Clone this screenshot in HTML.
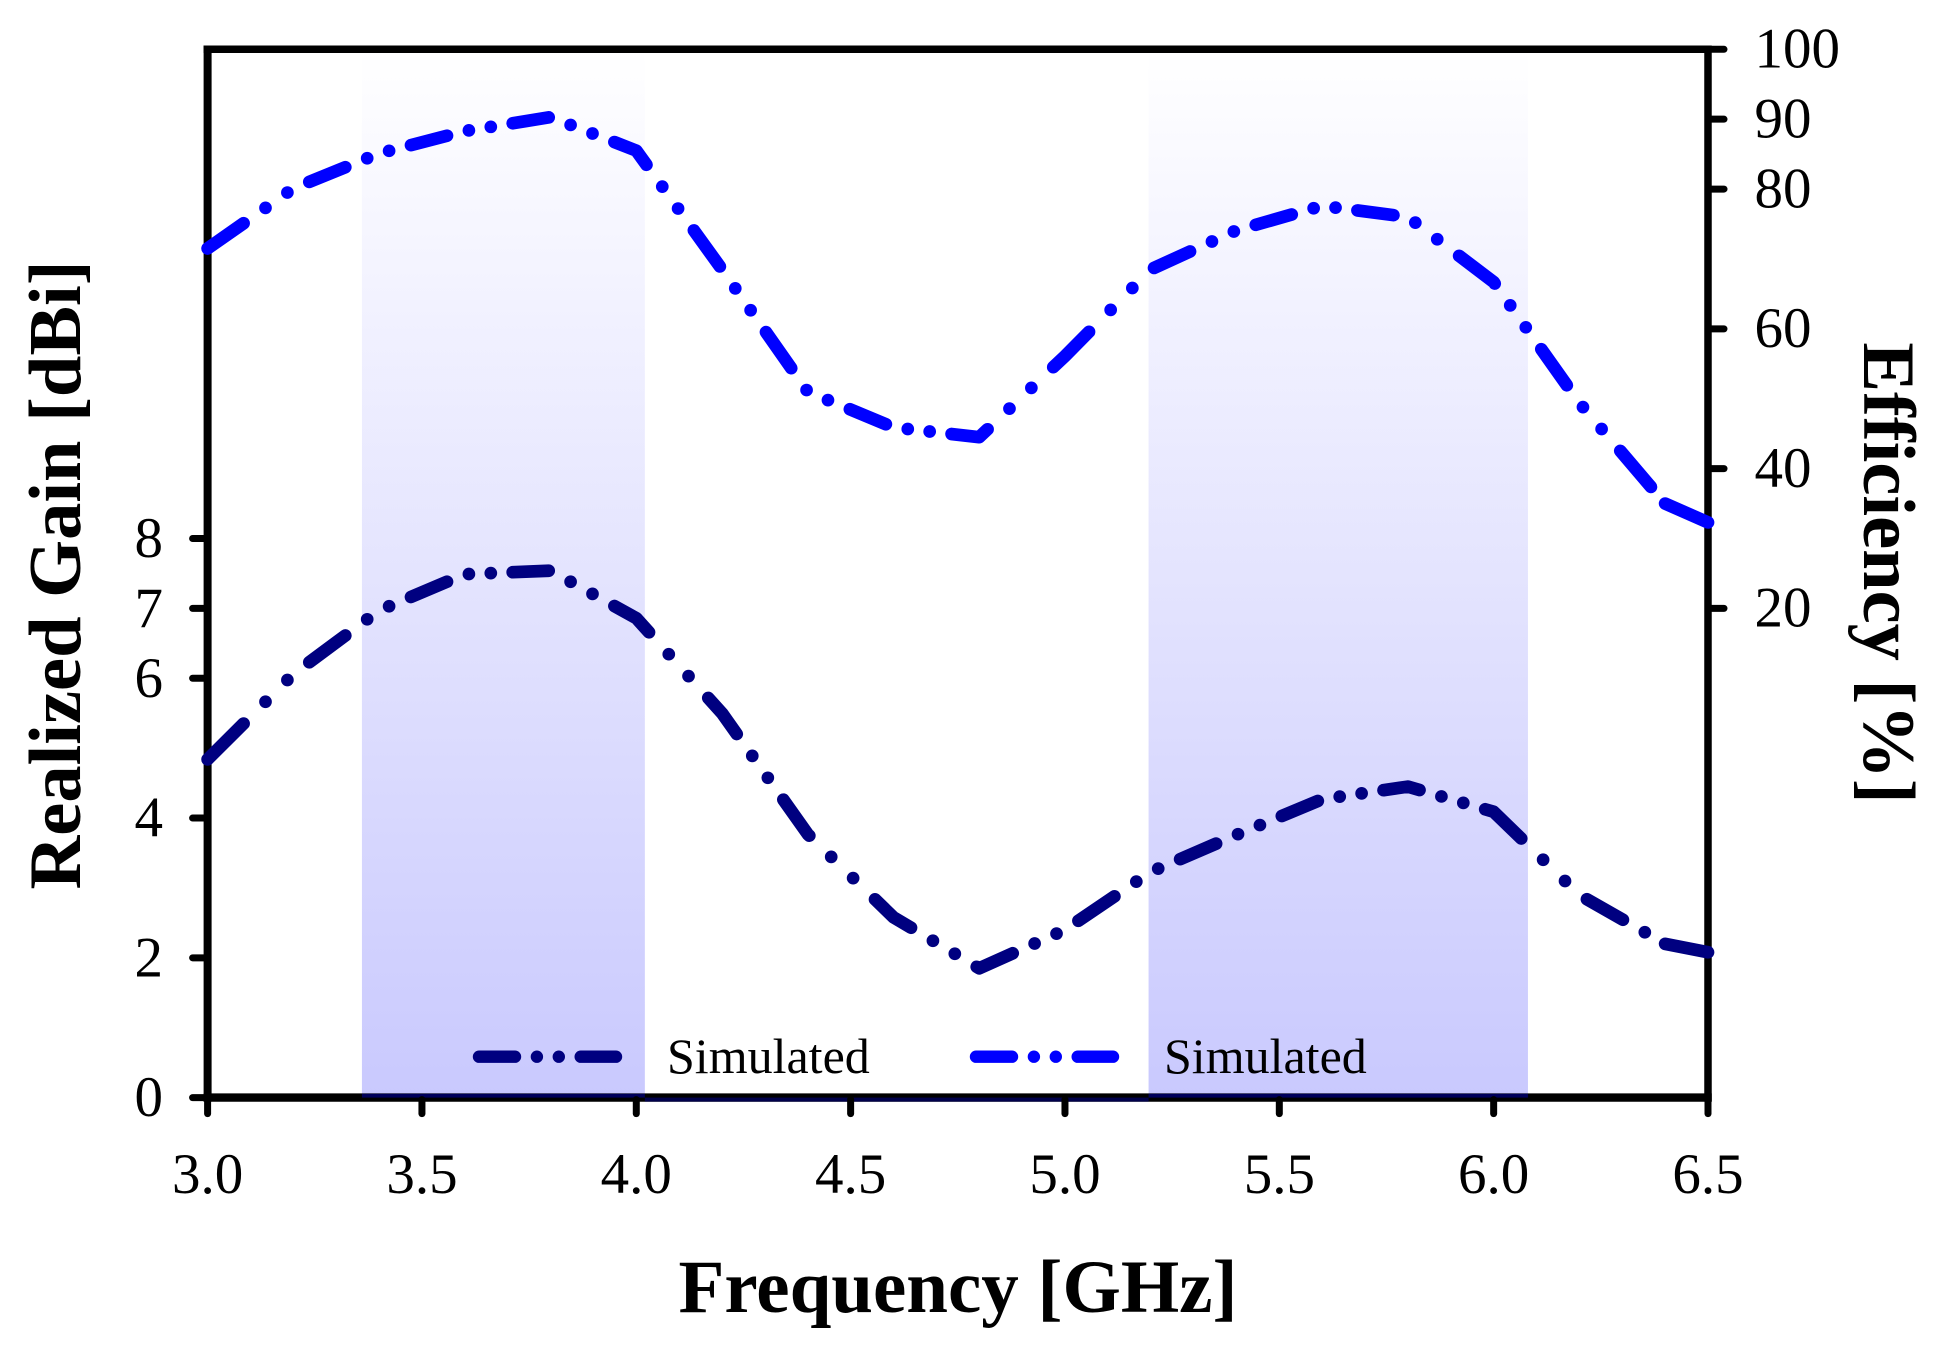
<!DOCTYPE html>
<html lang="en">
<head>
<meta charset="utf-8">
<title>Realized Gain and Efficiency vs Frequency</title>
<style>
html,body{margin:0;padding:0;background:#fff;}
svg{display:block;}
text{font-family:"Liberation Serif","Times New Roman",serif;fill:#000;}
</style>
</head>
<body>
<svg id="chart" xmlns="http://www.w3.org/2000/svg" width="1942" height="1346" viewBox="0 0 1942 1346">
  <defs>
    <linearGradient id="bandFill" gradientUnits="userSpaceOnUse" x1="0" y1="49" x2="0" y2="1098">
      <stop offset="0" stop-color="#ffffff"/>
      <stop offset="1" stop-color="#c9c9fe"/>
    </linearGradient>
  </defs>
  <rect x="0" y="0" width="1942" height="1346" fill="#ffffff"/>
  <g id="bands"></g>
  <g id="axes"></g>
  <g id="series"></g>
  <g id="legend"></g>
  <text x="958" y="1312" font-size="75" font-weight="bold" text-anchor="middle">Frequency [GHz]</text>
  <text transform="translate(80 575) rotate(-90)" font-size="74.5" font-weight="bold" text-anchor="middle">Realized Gain [dBi]</text>
  <text transform="translate(1864 573) rotate(90)" font-size="74.5" font-weight="bold" text-anchor="middle">Efficiency [%]</text>
</svg>
<script>
var frequencies = [3.0,3.2,3.4,3.6,3.8,4.0,4.2,4.4,4.6,4.8,5.0,5.2,5.4,5.6,5.8,6.0,6.2,6.4,6.5];
var gainValues = [4.84,6.06,6.97,7.49,7.54,6.86,5.5,3.77,2.58,1.85,2.4,3.23,3.76,4.27,4.45,4.09,2.9,2.2,2.08];
var efficiencyValues = [71.5,80.1,85.1,88.3,90.3,85.5,68.5,51.0,45.9,44.5,56.1,68.5,74.1,77.6,76.0,66.7,49.4,35.0,32.3];
var xTicks = [3.0,3.5,4.0,4.5,5.0,5.5,6.0,6.5];
var leftTicks = [0,2,4,6,7,8];
var rightTicks = [100,90,80,60,40,20];
var bandRanges = [[3.36,4.02],[5.195,6.08]];
var legendLabels = ["Simulated","Simulated"];

var NS = 'http://www.w3.org/2000/svg';
var plotLeft = 207.6, plotRight = 1708, plotTop = 49.3, plotBottom = 1097.6;
var xScale = function (v) { return plotLeft + (v - 3.0) / 3.5 * (plotRight - plotLeft); };
var gainScale = function (v) { return plotBottom - v / 15 * (plotBottom - plotTop); };
var effScale = function (v) { return plotBottom - (v + 50) / 150 * (plotBottom - plotTop); };

function make(tag, attrs, parent) {
  var el = document.createElementNS(NS, tag);
  for (var k in attrs) { el.setAttribute(k, attrs[k]); }
  parent.appendChild(el);
  return el;
}

/* bands */
var bandsG = document.getElementById('bands');
bandRanges.forEach(function (r) {
  var x0 = xScale(r[0]), x1 = xScale(r[1]);
  var b = make('rect', {x: x0, y: plotTop, width: x1 - x0, height: plotBottom - plotTop, fill: 'url(#bandFill)'}, bandsG);
  
  
});

/* axes */
var axesG = document.getElementById('axes');
function axisLine(x1, y1, x2, y2, w, name, cap) {
  var l = make('line', {x1: x1, y1: y1, x2: x2, y2: y2, stroke: '#000', 'stroke-width': w, 'stroke-linecap': cap || 'butt'}, axesG);
  
  
}
axisLine(plotLeft, plotTop - 3.75, plotLeft, plotBottom + 4, 8, 'left-axis-line');
axisLine(plotRight, plotTop - 3.75, plotRight, plotBottom + 4, 7.5, 'right-axis-line');
axisLine(plotLeft - 4, plotTop, plotRight, plotTop, 7.5, 'top-axis-line');
axisLine(plotLeft - 4, plotBottom, plotRight + 3.75, plotBottom, 8.4, 'bottom-axis-line');

/* navy strip running along the baseline */
var stripA = make('rect', {x: xScale(bandRanges[0][0]), y: plotBottom - 3.8, width: xScale(bandRanges[0][1]) - xScale(bandRanges[0][0]), height: 3.8, fill: '#00005a'}, axesG);


var stripB = make('rect', {x: xScale(bandRanges[1][0]), y: plotBottom - 3.8, width: xScale(bandRanges[1][1]) - xScale(bandRanges[1][0]), height: 3.8, fill: '#00005a'}, axesG);


var stripC = make('rect', {x: xScale(bandRanges[0][1]), y: plotBottom, width: xScale(bandRanges[1][0]) - xScale(bandRanges[0][1]), height: 4, fill: '#00004a'}, axesG);



xTicks.forEach(function (v) {
  var x = xScale(v);
  axisLine(x, plotBottom + 2, x, plotBottom + 16, 7, 'x-tick', 'round');
  var t = make('text', {x: x, y: 1193, 'font-size': 57, 'text-anchor': 'middle'}, axesG);
  
  
  t.textContent = v.toFixed(1);
});
leftTicks.forEach(function (v) {
  var y = gainScale(v);
  axisLine(plotLeft, y, plotLeft - 15, y, 7, 'left-tick', 'round');
  var t = make('text', {x: 163, y: y + 18.6, 'font-size': 57, 'text-anchor': 'end'}, axesG);
  
  
  t.textContent = String(v);
});
rightTicks.forEach(function (v) {
  var y = effScale(v);
  axisLine(plotRight, y, plotRight + 16, y, 7, 'right-tick', 'round');
  var t = make('text', {x: 1754.5, y: y + 18.2, 'font-size': 57}, axesG);
  
  
  t.textContent = String(v);
});

/* dash walker: dash-dot-dot pattern measured in max(|dx|,|dy|) steps */
var DASH_ON = 36, DASH_GAP = 21.9;
function dashedPath(pts) {
  var pattern = [DASH_ON, DASH_GAP, 0, DASH_GAP, 0, DASH_GAP];
  var idx = 0, left = pattern[0], on = true;
  var d = 'M' + pts[0][0].toFixed(2) + ' ' + pts[0][1].toFixed(2);
  for (var i = 1; i < pts.length; i++) {
    var a = pts[i - 1], b = pts[i];
    var dx = b[0] - a[0], dy = b[1] - a[1];
    var len = Math.max(Math.abs(dx), Math.abs(dy));
    var pos = 0;
    while (pos + left <= len) {
      pos += left;
      var px = a[0] + dx * pos / len, py = a[1] + dy * pos / len;
      d += (on ? 'L' : 'M') + px.toFixed(2) + ' ' + py.toFixed(2);
      if (!on && pattern[(idx + 1) % 6] === 0) {
        d += 'L' + px.toFixed(2) + ' ' + py.toFixed(2);
      }
      idx = (idx + 1) % 6;
      left = pattern[idx];
      on = idx % 2 === 0;
      if (left === 0) {
        idx = (idx + 1) % 6;
        left = pattern[idx];
        on = false;
      }
    }
    left -= (len - pos);
    if (on) { d += 'L' + b[0].toFixed(2) + ' ' + b[1].toFixed(2); }
  }
  return d;
}
/* the pattern restarts on the closing segment, which is drawn as one solid dash */
function seriesPath(pts) {
  var n = pts.length;
  var last = 'M' + pts[n - 2][0].toFixed(2) + ' ' + pts[n - 2][1].toFixed(2) +
             'L' + pts[n - 1][0].toFixed(2) + ' ' + pts[n - 1][1].toFixed(2);
  return dashedPath(pts.slice(0, n - 1)) + last;
}

var seriesG = document.getElementById('series');
var gainPts = frequencies.map(function (f, i) { return [xScale(f), gainScale(gainValues[i])]; });
var effPts = frequencies.map(function (f, i) { return [xScale(f), effScale(efficiencyValues[i])]; });
var gainPath = make('path', {d: seriesPath(gainPts), fill: 'none', stroke: '#000080', 'stroke-width': 12.7, 'stroke-linecap': 'round', 'stroke-linejoin': 'round'}, seriesG);


var effPath = make('path', {d: seriesPath(effPts), fill: 'none', stroke: '#0000ff', 'stroke-width': 12.7, 'stroke-linecap': 'round', 'stroke-linejoin': 'round'}, seriesG);



/* legend */
var legendG = document.getElementById('legend');
var legendY = 1056.7;
function legendSample(x0, color, name) {
  var s = make('path', {d: dashedPath([[x0, legendY], [x0 + 137, legendY]]), fill: 'none', stroke: color, 'stroke-width': 12.4, 'stroke-linecap': 'round'}, legendG);
  
  
}
legendSample(479, '#000080', 'legend-gain-sample');
legendSample(976, '#0000ff', 'legend-efficiency-sample');
var lt1 = make('text', {x: 667, y: 1073, 'font-size': 50}, legendG);


lt1.textContent = legendLabels[0];
var lt2 = make('text', {x: 1164, y: 1073, 'font-size': 50}, legendG);


lt2.textContent = legendLabels[1];
</script>
</body>
</html>
